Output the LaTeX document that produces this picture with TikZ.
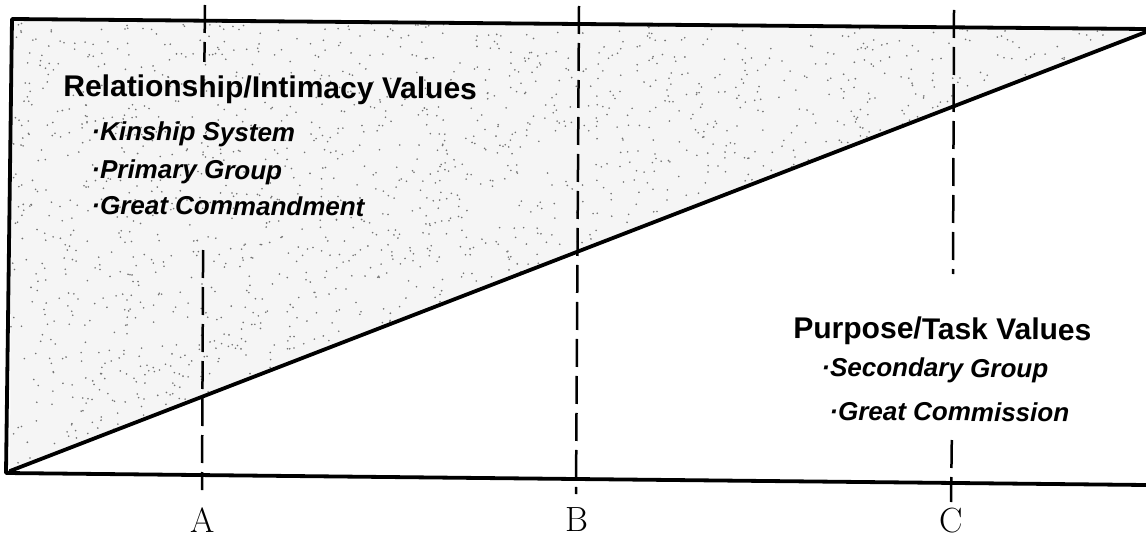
\documentclass[tikz,border=0pt]{standalone}
\usepackage{fontspec}
\newfontfamily\hv{Liberation Sans}
\begin{document}
\begin{tikzpicture}[x=0.5pt,y=-0.5pt,
  frame/.style={line width=1.9pt, line cap=round, line join=round},
  guide/.style={line width=1.25pt, dash pattern=on 14pt off 4.5pt},
  speck/.style={fill=black!55},
  title/.style={anchor=base west, inner sep=0pt, font=\hv\bfseries\fontsize{15}{18}\selectfont, rotate=-0.45},
  item/.style={anchor=base west, inner sep=0pt, font=\hv\bfseries\itshape\fontsize{13}{16}\selectfont, rotate=-0.45},
  letter/.style={anchor=base, inner sep=0pt, font=\fontsize{17.5}{20}\selectfont}]
\useasboundingbox (0,0) rectangle (1146,540);
\coordinate (TL) at (12,19);
\coordinate (TR) at (1146,29);
\coordinate (BL) at (6,473);
\coordinate (BR) at (1146,485);
\coordinate (D0) at (10,471);
\coordinate (D1) at (1146,32);
\fill[black!4] (TL) -- (TR) -- (D1) -- (D0) -- cycle;
% speckled texture of the shaded area (uniform over the triangle)
\pgfmathsetseed{4711}
\foreach \k in {1,...,1500}{
  \pgfmathsetmacro\ra{rnd}
  \pgfmathsetmacro\rb{rnd}
  \pgfmathsetmacro\sw{(\ra+\rb>1)}
  \pgfmathsetmacro\ua{\ra+\sw*(1-2*\ra)}
  \pgfmathsetmacro\ub{\rb+\sw*(1-2*\rb)}
  \pgfmathsetmacro\rx{12+\ua*1134-\ub*2}
  \pgfmathsetmacro\ry{20+\ua*10+\ub*451}
  \fill[speck] (\rx,\ry) circle[radius=0.45pt];
}
\draw[frame] (TR) -- (TL) -- (BL) -- (BR);
\draw[frame] (D0) -- (D1);
% guide lines
\coordinate (A0) at (205,5);
\coordinate (A1) at (204.4,62);
\coordinate (A2) at (203.1,250);
\coordinate (A3) at (202,490);
\coordinate (B0) at (579,6);
\coordinate (B1) at (576,494);
\coordinate (C0) at (954,10);
\coordinate (C1) at (953,274);
\coordinate (C2) at (951.8,440);
\coordinate (C3) at (951,502);
\draw[guide] (A0) -- (A1);
\draw[guide] (A2) -- (A3);
\draw[guide] (B0) -- (B1);
\draw[guide] (C0) -- (C1);
\draw[guide] (C2) -- (C3);
% texts
\node[title] (t1) at (63,96) {Relationship/Intimacy Values};
\node[item] (i1) at (91,140) {·Kinship System};
\node[item] (i2) at (91,178) {·Primary Group};
\node[item] (i3) at (91,214) {·Great Commandment};
\node[title] (t2) at (793,338) {Purpose/Task Values};
\node[item] (i4) at (821,376) {·Secondary Group};
\node[item] (i5) at (829,420) {·Great Commission};
\node[letter] (la) at (203,532) {A};
\node[letter] (lb) at (577,531) {B};
\node[letter] (lc) at (951,532) {C};
\end{tikzpicture}
\end{document}
